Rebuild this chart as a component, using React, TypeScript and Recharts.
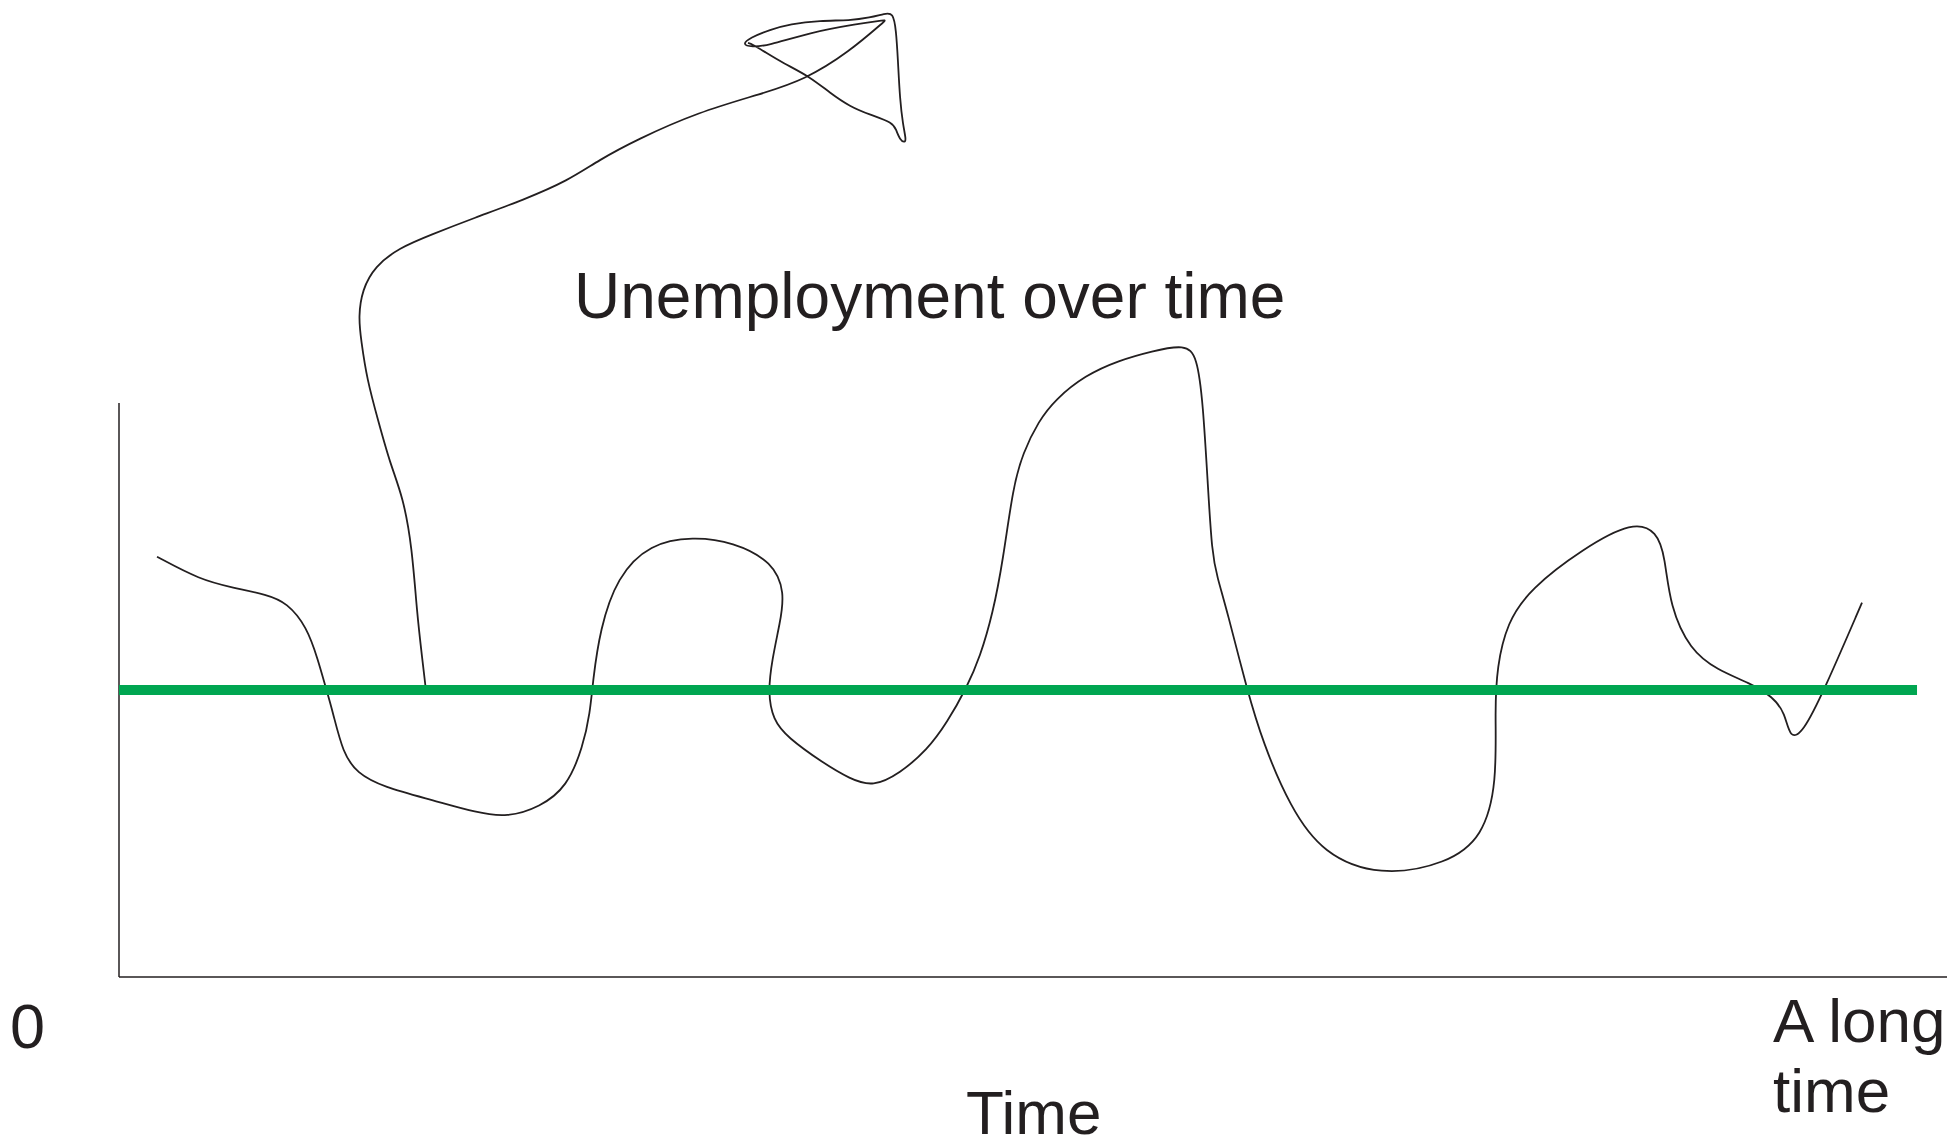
import React from 'react';
import { LineChart, Line, XAxis, YAxis, ReferenceLine } from 'recharts';

// unemployment path (x = time, y = unemployment rate)
const mainPath = [
  { x: 2.08, y: 7.32 }, { x: 4.43, y: 6.92 }, { x: 6.24, y: 6.78 }, { x: 8.1, y: 6.66 },
  { x: 9.19, y: 6.52 }, { x: 10.28, y: 6.1 }, { x: 10.89, y: 5.52 }, { x: 11.27, y: 5.09 },
  { x: 11.71, y: 4.6 }, { x: 12.25, y: 3.9 }, { x: 13.02, y: 3.55 }, { x: 14.44, y: 3.31 },
  { x: 17.18, y: 3.08 }, { x: 19.58, y: 2.86 }, { x: 21.23, y: 2.78 }, { x: 23.03, y: 2.96 },
  { x: 24.51, y: 3.31 }, { x: 25.38, y: 4.01 }, { x: 25.77, y: 4.6 }, { x: 25.93, y: 5.17 },
  { x: 26.31, y: 6.05 }, { x: 27.24, y: 6.97 }, { x: 29.05, y: 7.55 }, { x: 31.4, y: 7.67 },
  { x: 33.59, y: 7.58 }, { x: 35.78, y: 7.23 }, { x: 36.43, y: 6.69 }, { x: 36.16, y: 6.17 },
  { x: 35.72, y: 5.52 }, { x: 35.5, y: 4.95 }, { x: 35.78, y: 4.48 }, { x: 36.54, y: 4.18 },
  { x: 38.51, y: 3.73 }, { x: 39.99, y: 3.45 }, { x: 41.25, y: 3.31 }, { x: 42.72, y: 3.55 },
  { x: 44.2, y: 3.95 }, { x: 45.3, y: 4.43 }, { x: 46.39, y: 5.05 }, { x: 47.1, y: 5.57 },
  { x: 47.81, y: 6.34 }, { x: 48.36, y: 7.26 }, { x: 48.91, y: 8.54 }, { x: 49.45, y: 9.13 },
  { x: 50.3, y: 9.68 }, { x: 51.22, y: 10.06 }, { x: 52.85, y: 10.48 }, { x: 54.7, y: 10.74 },
  { x: 56.5, y: 10.9 }, { x: 58.32, y: 11.02 }, { x: 58.97, y: 10.82 }, { x: 59.3, y: 10.0 },
  { x: 59.57, y: 8.54 }, { x: 59.79, y: 7.39 }, { x: 60.07, y: 6.97 }, { x: 60.61, y: 6.39 },
  { x: 61.71, y: 5.0 }, { x: 62.58, y: 4.08 }, { x: 64.06, y: 2.96 }, { x: 65.86, y: 2.14 },
  { x: 68.98, y: 1.75 }, { x: 72.65, y: 1.97 }, { x: 74.62, y: 2.44 }, { x: 75.38, y: 3.38 },
  { x: 75.27, y: 4.65 }, { x: 75.38, y: 5.4 }, { x: 75.93, y: 6.17 }, { x: 77.19, y: 6.76 },
  { x: 80.09, y: 7.46 }, { x: 82.82, y: 7.94 }, { x: 84.14, y: 7.76 }, { x: 84.57, y: 7.32 },
  { x: 84.85, y: 6.45 }, { x: 85.94, y: 5.7 }, { x: 87.42, y: 5.35 }, { x: 89.22, y: 5.12 },
  { x: 90.48, y: 4.88 }, { x: 91.14, y: 4.6 }, { x: 91.41, y: 4.14 }, { x: 92.12, y: 4.26 },
  { x: 93.22, y: 4.95 }, { x: 95.35, y: 6.52 },
];

// the stray stroke that shoots off the top of the chart
const strayPath = [
  { x: 16.79, y: 5.0 }, { x: 16.58, y: 5.57 }, { x: 16.3, y: 6.34 }, { x: 16.03, y: 7.49 },
  { x: 15.54, y: 8.36 }, { x: 14.82, y: 8.95 }, { x: 14.17, y: 9.7 }, { x: 13.57, y: 10.4 },
  { x: 13.24, y: 11.1 }, { x: 13.1, y: 11.5 }, { x: 13.3, y: 11.97 }, { x: 14.0, y: 12.38 },
  { x: 15.32, y: 12.7 }, { x: 17.07, y: 12.93 }, { x: 19.42, y: 13.22 }, { x: 22.16, y: 13.54 },
  { x: 24.56, y: 13.87 }, { x: 26.26, y: 14.23 }, { x: 28.28, y: 14.58 }, { x: 31.73, y: 15.07 },
  { x: 35.12, y: 15.38 }, { x: 37.53, y: 15.63 }, { x: 39.93, y: 16.11 }, { x: 41.96, y: 16.67 },
  { x: 41.96, y: 16.67 }, { x: 40.37, y: 16.6 }, { x: 37.8, y: 16.45 }, { x: 35.45, y: 16.22 },
  { x: 34.63, y: 16.2 }, { x: 34.08, y: 16.24 }, { x: 34.52, y: 16.36 }, { x: 35.61, y: 16.5 },
  { x: 36.71, y: 16.6 }, { x: 38.35, y: 16.66 }, { x: 39.99, y: 16.66 }, { x: 41.08, y: 16.71 },
  { x: 41.9, y: 16.78 }, { x: 42.34, y: 16.8 }, { x: 42.51, y: 16.5 }, { x: 42.61, y: 15.98 },
  { x: 42.72, y: 15.28 }, { x: 42.89, y: 14.84 }, { x: 43.05, y: 14.6 }, { x: 43.0, y: 14.53 },
  { x: 42.72, y: 14.58 }, { x: 42.51, y: 14.76 }, { x: 42.34, y: 14.88 }, { x: 41.08, y: 15.02 },
  { x: 39.99, y: 15.16 }, { x: 38.89, y: 15.4 }, { x: 37.8, y: 15.68 }, { x: 36.32, y: 15.92 },
  { x: 35.34, y: 16.11 }, { x: 34.63, y: 16.25 }, { x: 34.41, y: 16.27 },
];

// natural rate of unemployment
const naturalRate = [{ x: 0, y: 5 }, { x: 98.36, y: 5 }];

const xDomain = [0, 100];
const yDomain = [0, 17];
const yAxisTop = 10;

const ink = '#231f20';
const font = '"Liberation Sans", Arial, Helvetica, sans-serif';

export default function App() {
  return (
    <div style={{ position: 'absolute', left: 0, top: 0, width: 1957, height: 1144, background: '#fff' }}>
      <LineChart width={1957} height={1144} margin={{ top: 1, right: 10, bottom: 167, left: 119 }}>
        <XAxis dataKey="x" type="number" domain={xDomain} hide allowDataOverflow />
        <YAxis dataKey="y" type="number" domain={yDomain} hide allowDataOverflow />
        <ReferenceLine segment={[{ x: 0, y: 0 }, { x: 0, y: yAxisTop }]} stroke={ink} strokeWidth={1.5} />
        <ReferenceLine segment={[{ x: 0, y: 0 }, { x: 100, y: 0 }]} stroke={ink} strokeWidth={1.5} />
        <Line data={mainPath} dataKey="y" type="basis" stroke={ink} strokeWidth={1.8} dot={false} isAnimationActive={false} />
        <Line data={strayPath} dataKey="y" type="basis" stroke={ink} strokeWidth={1.8} dot={false} isAnimationActive={false} />
        <Line data={naturalRate} dataKey="y" type="linear" stroke="#00a651" strokeWidth={10} dot={false} isAnimationActive={false} />
      </LineChart>
      <svg width={1957} height={1144} style={{ position: 'absolute', left: 0, top: 0, pointerEvents: 'none' }}>
        <g fill={ink} fontFamily={font}>
          <text x={574} y={318} fontSize={64}>Unemployment over time</text>
          <text x={10} y={1048} fontSize={63}>0</text>
          <text x={1773} y={1042} fontSize={62}>A long</text>
          <text x={1773} y={1112} fontSize={62}>time</text>
          <text x={966} y={1134} fontSize={62}>Time</text>
        </g>
      </svg>
    </div>
  );
}
